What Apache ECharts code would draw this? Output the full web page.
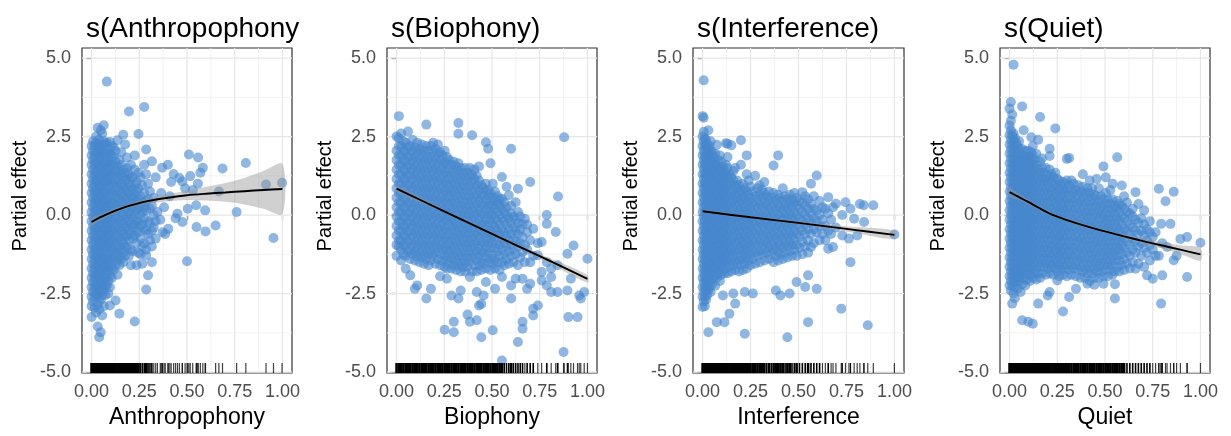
<!DOCTYPE html>
<html><head><meta charset="utf-8">
<script src="https://cdn.jsdelivr.net/npm/echarts@6/dist/echarts.min.js"></script>
<style>html,body{margin:0;padding:0;background:#fff}#c{width:1231px;height:436px}</style>
</head><body><div id="c"></div>
<script>
const panelTitles = ['s(Anthropophony)', 's(Biophony)', 's(Interference)', 's(Quiet)'];
const xAxisTitles = ['Anthropophony', 'Biophony', 'Interference', 'Quiet'];
const yAxisTitle = 'Partial effect';
const xTickValues = [0, 0.25, 0.5, 0.75, 1];
const yTickValues = [-5, -2.5, 0, 2.5, 5];
const xMinorGrid = [0.125, 0.375, 0.625, 0.875];
const yMinorGrid = [-3.75, -1.25, 1.25, 3.75];

// points: columns of [x, [y values]] plus single points
const anthroColumns = [
[0.000,[-3.25,-2.9,-2.6,-2.3,-2.0,-1.7,-1.4,-1.1,-0.8,-0.5,-0.2,0.1,0.4,0.7,1.0,1.3,1.6,1.9,2.2]],
[0.008,[-2.75,-2.45,-2.15,-1.85,-1.55,-1.25,-0.95,-0.65,-0.35,-0.05,0.25,0.55,0.85,1.15,1.45,1.75,2.05,2.35]],
[0.016,[-2.95,-2.6,-2.3,-2.0,-1.7,-1.4,-1.1,-0.8,-0.5,-0.2,0.1,0.4,0.7,1.0,1.3,1.6,1.9,2.2]],
[0.024,[-3.1,-2.5,-2.2,-1.9,-1.6,-1.3,-1.0,-0.7,-0.4,-0.1,0.2,0.5,0.8,1.1,1.4,1.7,2.0,2.3,2.5]],
[0.032,[-3.55,-2.85,-2.55,-2.25,-1.95,-1.65,-1.35,-1.05,-0.75,-0.45,-0.15,0.15,0.45,0.75,1.05,1.35,1.65,1.95,2.25,2.78]],
[0.040,[-3.89,-3.0,-2.65,-2.35,-2.05,-1.75,-1.45,-1.15,-0.85,-0.55,-0.25,0.05,0.35,0.65,0.95,1.25,1.55,1.85,2.15,2.4]],
[0.048,[-3.73,-2.7,-2.4,-2.1,-1.8,-1.5,-1.2,-0.9,-0.6,-0.3,0.0,0.3,0.6,0.9,1.2,1.5,1.8,2.1,2.7]],
[0.056,[-3.2,-2.55,-2.25,-1.95,-1.65,-1.35,-1.05,-0.75,-0.45,-0.15,0.15,0.45,0.75,1.05,1.35,1.65,1.95,2.25,2.6]],
[0.064,[-2.9,-2.4,-2.1,-1.8,-1.5,-1.2,-0.9,-0.6,-0.3,0.0,0.3,0.6,0.9,1.2,1.5,1.8,2.1,2.35,2.86]],
[0.072,[-2.55,-2.25,-1.95,-1.65,-1.35,-1.05,-0.75,-0.45,-0.15,0.15,0.45,0.75,1.05,1.35,1.65,1.95,2.25]],
[0.080,[-2.24,-1.95,-1.65,-1.35,-1.05,-0.75,-0.45,-0.15,0.15,0.45,0.75,1.05,1.35,1.65,1.95,2.3,4.25]],
[0.088,[-2.5,-2.1,-1.8,-1.5,-1.2,-0.9,-0.6,-0.3,0.0,0.3,0.6,0.9,1.2,1.5,1.8,2.1]],
[0.096,[-2.88,-2.3,-1.95,-1.65,-1.35,-1.05,-0.75,-0.45,-0.15,0.15,0.45,0.75,1.05,1.35,1.65,1.95,2.33]],
[0.106,[-2.0,-1.7,-1.4,-1.1,-0.8,-0.5,-0.2,0.1,0.4,0.7,1.0,1.3,1.6,1.9,2.2]],
[0.116,[-1.75,-1.45,-1.15,-0.85,-0.55,-0.25,0.05,0.35,0.65,0.95,1.25,1.55,1.85,2.15]],
[0.126,[-2.72,-1.6,-1.3,-1.0,-0.7,-0.4,-0.1,0.2,0.5,0.8,1.1,1.4,1.7,2.05]],
[0.136,[-1.9,-1.45,-1.15,-0.85,-0.55,-0.25,0.05,0.35,0.65,0.95,1.25,1.55,2.38]],
[0.146,[-3.14,-1.6,-1.3,-1.0,-0.7,-0.4,-0.1,0.2,0.5,0.8,1.1,1.4,1.75]],
[0.156,[-1.4,-1.1,-0.8,-0.5,-0.2,0.1,0.4,0.7,1.0,1.3,1.6,2.0]],
[0.166,[-1.5,-1.2,-0.9,-0.6,-0.3,0.0,0.3,0.6,0.9,1.2,1.45,2.56]],
[0.176,[-1.3,-1.0,-0.7,-0.4,-0.1,0.2,0.5,0.8,1.1,1.35,2.25]],
[0.186,[-1.0,-0.65,-0.35,-0.05,0.25,0.55,0.85,1.15,1.5,1.83]],
[0.196,[-1.3,-0.8,-0.5,-0.2,0.1,0.4,0.7,1.0,1.3,3.3]],
[0.206,[-1.6,-1.1,-0.6,-0.3,0.0,0.3,0.6,0.9,1.2,1.6]],
[0.216,[-1.15,-0.75,-0.4,-0.1,0.25,0.55,0.8,1.2]],
[0.226,[-3.39,-0.65,-0.3,0.05,0.35,0.65,0.95,1.45,1.9]],
[0.236,[-1.6,-0.9,-0.5,-0.2,0.15,0.45,0.75,1.05]],
[0.246,[-1.2,-0.55,-0.2,0.2,0.5,0.85,1.35,2.58]],
[0.256,[-1.25,-0.75,-0.35,0.0,0.3,0.6,1.2]],
[0.266,[-1.55,-1.0,-0.3,0.1,0.4,0.95]],
[0.276,[-0.9,-0.45,-0.1,0.25,0.7,1.6,3.44]],
[0.286,[-2.37,-1.28,-1.1,-0.5,0.15,0.45,1.3,2.09]],
[0.296,[-1.92,-0.6,-0.2,0.5,1.0]],
[0.306,[-0.8,-0.25,0.2,0.75]],
[0.316,[-1.5,-1.0,-0.5,0.3,1.71]],
[0.326,[-0.4,0.0,0.55]],
[0.336,[-0.75,-0.2,1.2]]
];
const anthroExtra = [[0.345,0.1],[0.36,-0.15],[0.365,0.7],[0.37,1.51],[0.372,-0.55],[0.38,0.25],[0.386,-0.6],[0.40,1.6],[0.402,-0.44],[0.41,0.6],[0.417,1.05],[0.43,1.31],[0.44,-0.1],[0.45,0.04],[0.46,1.18],[0.475,1.07],[0.476,-0.22],[0.49,0.85],[0.50,-1.47],[0.504,0.2],[0.51,1.93],[0.517,1.24],[0.53,0.8],[0.548,0.31],[0.55,-0.38],[0.557,1.0],[0.558,1.83],[0.57,1.35],[0.583,1.51],[0.595,0.15],[0.597,-0.52],[0.65,-0.33],[0.667,0.75],[0.686,1.48],[0.76,0.1],[0.808,1.66],[0.914,0.97],[0.953,-0.73],[0.998,1.03]];

const bioColumns = [
[0.000,[-1.3,-0.95,-0.65,-0.35,-0.05,0.25,0.55,0.85,1.15,1.45,1.75,2.05,2.5]],
[0.012,[-1.0,-0.8,-0.5,-0.2,0.1,0.4,0.7,1.0,1.3,1.6,1.9,2.2,2.45,3.15]],
[0.024,[-1.45,-1.1,-0.8,-0.5,-0.2,0.1,0.4,0.7,1.0,1.3,1.6,1.9,2.2,2.6]],
[0.036,[-1.25,-0.95,-0.65,-0.35,-0.05,0.25,0.55,0.85,1.15,1.45,1.75,2.05,2.35]],
[0.048,[-1.71,-1.3,-1.0,-0.7,-0.4,-0.1,0.2,0.5,0.8,1.1,1.4,1.7,2.0,2.3]],
[0.060,[-1.15,-0.85,-0.55,-0.25,0.05,0.35,0.65,0.95,1.25,1.55,1.85,2.15,2.66]],
[0.072,[-1.92,-1.4,-1.1,-0.8,-0.5,-0.2,0.1,0.4,0.7,1.0,1.3,1.6,1.9,2.2]],
[0.084,[-1.25,-0.95,-0.65,-0.35,-0.05,0.25,0.55,0.85,1.15,1.45,1.75,2.05,2.4]],
[0.096,[-2.35,-1.45,-1.15,-0.85,-0.55,-0.25,0.05,0.35,0.65,0.95,1.25,1.55,1.85,2.15]],
[0.108,[-2.24,-1.3,-1.0,-0.7,-0.4,-0.1,0.2,0.5,0.8,1.1,1.4,1.7,2.0,2.3]],
[0.120,[-1.5,-1.2,-0.9,-0.6,-0.3,0.0,0.3,0.6,0.9,1.2,1.5,1.8,2.1]],
[0.132,[-1.35,-1.05,-0.75,-0.45,-0.15,0.15,0.45,0.75,1.05,1.35,1.65,1.95,2.25]],
[0.144,[-1.55,-1.25,-0.95,-0.65,-0.35,-0.05,0.25,0.55,0.85,1.15,1.45,1.75,2.05]],
[0.156,[-2.66,-1.4,-1.1,-0.8,-0.5,-0.2,0.1,0.4,0.7,1.0,1.3,1.6,1.9,2.2,2.88]],
[0.168,[-1.6,-1.25,-0.95,-0.65,-0.35,-0.05,0.25,0.55,0.85,1.15,1.45,1.75,2.05]],
[0.180,[-2.35,-1.45,-1.15,-0.85,-0.55,-0.25,0.05,0.35,0.65,0.95,1.25,1.55,1.85,2.2]],
[0.192,[-1.3,-1.0,-0.7,-0.4,-0.1,0.2,0.5,0.8,1.1,1.4,1.7,2.0,2.3]],
[0.204,[-1.55,-1.2,-0.9,-0.6,-0.3,0.0,0.3,0.6,0.9,1.2,1.5,1.8,2.1]],
[0.216,[-1.4,-1.05,-0.75,-0.45,-0.15,0.15,0.45,0.75,1.05,1.35,1.65,1.95,2.25]],
[0.228,[-1.95,-1.6,-1.25,-0.95,-0.65,-0.35,-0.05,0.25,0.55,0.85,1.15,1.45,1.75,2.0]],
[0.240,[-1.45,-1.1,-0.8,-0.5,-0.2,0.1,0.4,0.7,1.0,1.3,1.6,1.9]],
[0.252,[-3.65,-1.65,-1.3,-1.0,-0.7,-0.4,-0.1,0.2,0.5,0.8,1.1,1.4,1.7,2.05]],
[0.264,[-2.03,-1.71,-1.4,-1.1,-0.8,-0.5,-0.2,0.1,0.4,0.7,1.0,1.3,1.6,1.85]],
[0.276,[-1.55,-1.25,-0.95,-0.65,-0.35,-0.05,0.25,0.55,0.85,1.15,1.45,1.75]],
[0.288,[-2.56,-1.7,-1.4,-1.1,-0.8,-0.5,-0.2,0.1,0.4,0.7,1.0,1.3,1.6]],
[0.300,[-3.73,-3.4,-1.6,-1.3,-1.0,-0.7,-0.4,-0.1,0.2,0.5,0.8,1.1,1.4,1.7]],
[0.312,[-1.75,-1.45,-1.15,-0.85,-0.55,-0.25,0.05,0.35,0.65,0.95,1.25,1.55]],
[0.324,[-2.66,-1.6,-1.3,-1.0,-0.7,-0.4,-0.1,0.2,0.5,0.8,1.1,1.4,1.65,2.59,2.93]],
[0.336,[-2.4,-1.8,-1.5,-1.2,-0.9,-0.6,-0.3,0.0,0.3,0.6,0.9,1.2,1.5]],
[0.348,[-1.65,-1.35,-1.05,-0.75,-0.45,-0.15,0.15,0.45,0.75,1.05,1.35]],
[0.360,[-1.8,-1.5,-1.2,-0.9,-0.6,-0.3,0.0,0.3,0.6,0.9,1.2,1.5]],
[0.372,[-3.17,-1.65,-1.35,-1.05,-0.75,-0.45,-0.15,0.15,0.45,0.75,1.05,1.35]],
[0.384,[-3.4,-1.97,-1.5,-1.2,-0.9,-0.6,-0.3,0.0,0.3,0.6,0.9,1.2,1.5]],
[0.396,[-1.8,-1.35,-1.05,-0.75,-0.45,-0.15,0.15,0.45,0.75,1.05,1.3,2.54]],
[0.408,[-1.6,-1.25,-0.95,-0.65,-0.35,-0.05,0.25,0.55,0.85,1.15,1.45]],
[0.420,[-3.35,-2.45,-1.8,-1.45,-1.15,-0.85,-0.55,-0.25,0.05,0.35,0.65,0.95,1.25]],
[0.432,[-2.88,-1.6,-1.3,-1.0,-0.7,-0.4,-0.1,0.2,0.5,0.8,1.1,1.55]],
[0.444,[-3.89,-2.83,-1.75,-1.45,-1.15,-0.85,-0.55,-0.25,0.05,0.35,0.65,0.95]],
[0.456,[-2.56,-1.55,-1.2,-0.9,-0.6,-0.3,0.0,0.3,0.6,0.85]],
[0.468,[-2.13,-1.7,-1.35,-1.05,-0.75,-0.45,-0.15,0.15,0.45,0.75,1.0,2.32]],
[0.480,[-1.5,-1.2,-0.9,-0.6,-0.3,0.0,0.3,0.6,0.8,2.11]],
[0.492,[-1.75,-1.4,-1.05,-0.75,-0.45,-0.15,0.15,0.45,0.7,1.65]],
[0.504,[-3.67,-1.55,-1.25,-0.9,-0.6,-0.3,0.0,0.3,0.55,1.0]],
[0.516,[-2.35,-1.7,-1.4,-1.05,-0.7,-0.4,-0.1,0.2,0.45,0.75]],
[0.528,[-1.5,-1.15,-0.85,-0.5,-0.2,0.1,0.35,0.6]],
[0.540,[-1.75,-1.3,-0.95,-0.6,-0.3,0.0,0.3,0.5]],
[0.552,[-4.63,-1.97,-1.5,-1.1,-0.75,-0.45,-0.1,0.2,0.52,1.21]],
[0.564,[-1.6,-1.25,-0.9,-0.55,-0.2,0.1,0.4]],
[0.576,[-1.4,-1.0,-0.65,-0.3,0.0,0.25,0.9]],
[0.588,[-1.55,-1.15,-0.8,-0.45,-0.1,0.63]],
[0.600,[-2.66,-2.24,-1.3,-0.95,-0.6,-0.25,0.05,0.3,2.11]],
[0.612,[-1.5,-1.1,-0.75,-0.4,-0.05]],
[0.624,[-2.03,-1.25,-0.85,-0.5,-0.15,0.41]],
[0.636,[-4.04,-1.6,-1.0,-0.6,-0.25,0.1,0.84]],
[0.648,[-1.35,-0.9,-0.45,-0.05]],
[0.660,[-3.62,-3.4,-2.03,-1.18,-0.7,-0.3]],
[0.672,[-1.5,-0.95,-0.12]],
[0.684,[-2.35,-1.1,-0.55,-0.3]],
[0.700,[-2.19,-1.5,-0.8,1.05]],
[0.716,[-3.2,-2.98,-1.3,-0.44]],
[0.740,[-2.88,-1.28,-0.9]],
[0.760,[-2.08,-1.81,-0.86]],
[0.787,[-2.24,-1.5,0.0,-0.28]],
[0.810,[-2.45,-1.97,-1.7]]
];
const bioExtra = [[0.834,-0.54],[0.843,-1.6],[0.843,-2.45],[0.846,0.59],[0.875,-4.36],[0.878,2.48],[0.895,-1.23],[0.895,-2.4],[0.9,-3.25],[0.913,-2.03],[0.927,-0.97],[0.948,-3.25],[0.957,-2.56],[0.965,-2.66],[0.983,-2.45],[1.0,-1.39]];

const interfColumns = [
[0.000,[-2.93,-2.6,-2.3,-2.0,-1.7,-1.4,-1.1,-0.8,-0.5,-0.2,0.1,0.4,0.7,1.0,1.3,1.6,1.9,2.2,2.5,3.15]],
[0.006,[-2.75,-2.45,-2.15,-1.85,-1.55,-1.25,-0.95,-0.65,-0.35,-0.05,0.25,0.55,0.85,1.15,1.45,1.75,2.05,2.35,2.65,3.1,4.29]],
[0.012,[-2.9,-2.6,-2.3,-2.0,-1.7,-1.4,-1.1,-0.8,-0.5,-0.2,0.1,0.4,0.7,1.0,1.3,1.6,1.9,2.2,2.45]],
[0.018,[-2.7,-2.4,-2.1,-1.8,-1.5,-1.2,-0.9,-0.6,-0.3,0.0,0.3,0.6,0.9,1.2,1.5,1.8,2.1,2.4]],
[0.024,[-2.55,-2.25,-1.95,-1.65,-1.35,-1.05,-0.75,-0.45,-0.15,0.15,0.45,0.75,1.05,1.35,1.65,1.95,2.25]],
[0.030,[-3.73,-2.4,-2.1,-1.8,-1.5,-1.2,-0.9,-0.6,-0.3,0.0,0.3,0.6,0.9,1.2,1.5,1.8,2.1,2.7]],
[0.036,[-2.3,-2.0,-1.7,-1.4,-1.1,-0.8,-0.5,-0.2,0.1,0.4,0.7,1.0,1.3,1.6,1.9,2.2]],
[0.042,[-2.45,-2.15,-1.85,-1.55,-1.25,-0.95,-0.65,-0.35,-0.05,0.25,0.55,0.85,1.15,1.45,1.75,2.05,2.35]],
[0.050,[-2.2,-1.9,-1.6,-1.3,-1.0,-0.7,-0.4,-0.1,0.2,0.5,0.8,1.1,1.4,1.7,2.0]],
[0.058,[-2.0,-1.7,-1.4,-1.1,-0.8,-0.5,-0.2,0.1,0.4,0.7,1.0,1.3,1.6,1.85]],
[0.066,[-2.25,-1.95,-1.65,-1.35,-1.05,-0.75,-0.45,-0.15,0.15,0.45,0.75,1.05,1.35,1.65,1.95]],
[0.074,[-3.41,-2.0,-1.7,-1.4,-1.1,-0.8,-0.5,-0.2,0.1,0.4,0.7,1.0,1.3,1.6,2.24]],
[0.082,[-1.85,-1.55,-1.25,-0.95,-0.65,-0.35,-0.05,0.25,0.55,0.85,1.15,1.45,1.75]],
[0.090,[-2.1,-1.8,-1.5,-1.2,-0.9,-0.6,-0.3,0.0,0.3,0.6,0.9,1.2,1.5,1.9]],
[0.098,[-1.9,-1.6,-1.3,-1.0,-0.7,-0.4,-0.1,0.2,0.5,0.8,1.1,1.4,1.7]],
[0.106,[-2.56,-1.75,-1.45,-1.15,-0.85,-0.55,-0.25,0.05,0.35,0.65,0.95,1.25,1.55]],
[0.114,[-3.41,-1.85,-1.55,-1.25,-0.95,-0.65,-0.35,-0.05,0.25,0.55,0.85,1.15,1.4]],
[0.122,[-1.7,-1.4,-1.1,-0.8,-0.5,-0.2,0.1,0.4,0.7,1.0,1.3,1.6,2.29]],
[0.130,[-1.85,-1.5,-1.2,-0.9,-0.6,-0.3,0.0,0.3,0.6,0.9,1.2,1.5,1.85,2.27]],
[0.140,[-3.14,-1.65,-1.35,-1.05,-0.75,-0.45,-0.15,0.15,0.45,0.75,1.05,1.3]],
[0.150,[-1.8,-1.45,-1.15,-0.85,-0.55,-0.25,0.05,0.35,0.65,0.95,1.2,2.22]],
[0.160,[-2.5,-1.6,-1.3,-1.0,-0.7,-0.4,-0.1,0.2,0.5,0.8,1.1,1.4]],
[0.170,[-2.82,-1.75,-1.45,-1.15,-0.85,-0.55,-0.25,0.05,0.35,0.65,0.95,1.5]],
[0.180,[-1.55,-1.25,-0.95,-0.65,-0.35,-0.05,0.25,0.55,0.85,1.1]],
[0.190,[-1.8,-1.45,-1.1,-0.8,-0.5,-0.2,0.1,0.4,0.7,0.95]],
[0.200,[-1.6,-1.3,-1.0,-0.7,-0.4,-0.1,0.2,0.5,0.8,1.6,2.38]],
[0.210,[-1.75,-1.4,-1.1,-0.8,-0.5,-0.2,0.1,0.4,0.7,1.0]],
[0.220,[-3.78,-2.45,-1.55,-1.25,-0.95,-0.65,-0.35,-0.05,0.25,0.55,0.85]],
[0.230,[-1.7,-1.35,-1.05,-0.75,-0.45,-0.15,0.15,0.45,0.75,1.3,1.9]],
[0.240,[-1.45,-1.15,-0.85,-0.55,-0.25,0.05,0.35,0.65,1.1]],
[0.250,[-1.6,-1.25,-0.95,-0.65,-0.35,-0.05,0.25,0.55,0.9]],
[0.262,[-2.5,-1.4,-1.1,-0.8,-0.5,-0.2,0.1,0.4,0.75]],
[0.274,[-1.55,-1.2,-0.9,-0.6,-0.3,0.0,0.3,0.6,1.25]],
[0.286,[-1.3,-1.0,-0.7,-0.4,-0.1,0.2,0.5,0.85]],
[0.298,[-1.5,-1.15,-0.85,-0.55,-0.25,0.05,0.35,0.65,0.95]],
[0.310,[-1.25,-0.95,-0.65,-0.35,-0.05,0.25,0.55,0.8]],
[0.322,[-1.45,-1.1,-0.8,-0.5,-0.2,0.1,0.4,0.7,1.05]],
[0.334,[-1.2,-0.9,-0.6,-0.3,0.0,0.3,0.6]],
[0.346,[-1.4,-1.05,-0.75,-0.45,-0.15,0.15,0.45,0.75]],
[0.358,[-1.25,-0.95,-0.65,-0.35,-0.05,0.25,0.55]],
[0.370,[-1.5,-1.1,-0.8,-0.5,-0.2,0.1,0.4,0.7,1.58]],
[0.382,[-2.4,-1.3,-1.0,-0.7,-0.4,-0.1,0.2,0.5]],
[0.394,[-1.45,-1.15,-0.85,-0.55,-0.25,0.05,0.35,0.65,1.9]],
[0.406,[-2.56,-1.25,-0.95,-0.65,-0.35,-0.05,0.25,0.55]],
[0.418,[-1.4,-1.05,-0.75,-0.45,-0.15,0.15,0.45,0.85]],
[0.430,[-1.2,-0.9,-0.6,-0.3,0.0,0.3,0.6]],
[0.442,[-3.89,-1.35,-1.0,-0.7,-0.4,-0.1,0.2,0.5]],
[0.454,[-2.5,-1.15,-0.85,-0.55,-0.25,0.05,0.35,0.65]],
[0.466,[-1.3,-0.95,-0.65,-0.35,-0.05,0.25,0.5]],
[0.478,[-1.1,-0.8,-0.5,-0.2,0.1,0.4,0.7]],
[0.490,[-2.13,-1.3,-0.95,-0.6,-0.3,0.0,0.3,0.55]],
[0.505,[-1.05,-0.7,-0.4,-0.1,0.2,0.45]],
[0.520,[-1.25,-0.85,-0.5,-0.2,0.1,0.4,0.73]],
[0.535,[-2.29,-1.0,-0.6,-0.3,0.0,0.3,0.6]],
[0.550,[-3.41,-1.92,-1.2,-0.8,-0.45,-0.1,0.2,0.5]],
[0.565,[-1.02,-0.6,-0.25,0.05,0.35,1.0]],
[0.580,[-0.9,-0.45,-0.1,0.2,0.6]],
[0.595,[-2.35,-0.55,-0.2,0.15,1.26]],
[0.610,[-0.8,-0.35,0.0,0.45]],
[0.625,[-0.6,-0.15,0.25]],
[0.640,[-0.8,-0.35,0.2]],
[0.655,[-1.07,-0.5,0.05,0.57]],
[0.670,[-0.6,-0.15]],
[0.680,[-1.02,0.25]],
[0.695,[0.36,-0.4]]
];
const interfExtra = [[0.723,-2.98],[0.728,-0.65],[0.728,0.0],[0.745,0.41],[0.763,-0.75],[0.771,-1.5],[0.771,0.2],[0.79,-0.12],[0.806,-0.65],[0.82,0.35],[0.84,0.31],[0.842,-0.22],[0.861,-3.51],[0.89,0.31],[1.0,-0.62]];

const quietColumns = [
[0.000,[-2.24,-1.95,-1.65,-1.35,-1.05,-0.75,-0.45,-0.15,0.15,0.45,0.75,1.05,1.35,1.65,1.95,2.25,2.55,2.85,3.39]],
[0.007,[-2.4,-2.1,-1.8,-1.5,-1.2,-0.9,-0.6,-0.3,0.0,0.3,0.6,0.9,1.2,1.5,1.8,2.1,2.4,2.7,3.0,3.6]],
[0.014,[-2.82,-2.25,-1.95,-1.65,-1.35,-1.05,-0.75,-0.45,-0.15,0.15,0.45,0.75,1.05,1.35,1.65,1.95,2.25,2.55,3.2]],
[0.021,[-2.5,-2.1,-1.8,-1.5,-1.2,-0.9,-0.6,-0.3,0.0,0.3,0.6,0.9,1.2,1.5,1.8,2.1,2.4,2.6,4.79]],
[0.028,[-2.65,-2.3,-2.0,-1.7,-1.4,-1.1,-0.8,-0.5,-0.2,0.1,0.4,0.7,1.0,1.3,1.6,1.9,2.2,2.45]],
[0.035,[-2.15,-1.85,-1.55,-1.25,-0.95,-0.65,-0.35,-0.05,0.25,0.55,0.85,1.15,1.45,1.75,2.05,2.3]],
[0.042,[-2.35,-2.0,-1.7,-1.4,-1.1,-0.8,-0.5,-0.2,0.1,0.4,0.7,1.0,1.3,1.6,1.9,2.2]],
[0.050,[-2.1,-1.8,-1.5,-1.2,-0.9,-0.6,-0.3,0.0,0.3,0.6,0.9,1.2,1.5,1.8,2.1,2.35]],
[0.058,[-2.45,-1.95,-1.65,-1.35,-1.05,-0.75,-0.45,-0.15,0.15,0.45,0.75,1.05,1.35,1.65,1.95]],
[0.066,[-3.35,-2.2,-1.85,-1.55,-1.25,-0.95,-0.65,-0.35,-0.05,0.25,0.55,0.85,1.15,1.45,1.75,2.1,3.46]],
[0.074,[-2.0,-1.7,-1.4,-1.1,-0.8,-0.5,-0.2,0.1,0.4,0.7,1.0,1.3,1.6,1.9,2.7]],
[0.082,[-2.24,-1.85,-1.55,-1.25,-0.95,-0.65,-0.35,-0.05,0.25,0.55,0.85,1.15,1.45,1.75,2.05]],
[0.090,[-2.05,-1.7,-1.4,-1.1,-0.8,-0.5,-0.2,0.1,0.4,0.7,1.0,1.3,1.6,1.85]],
[0.098,[-3.4,-1.9,-1.55,-1.25,-0.95,-0.65,-0.35,-0.05,0.25,0.55,0.85,1.15,1.45,1.75,2.05]],
[0.106,[-2.1,-1.75,-1.45,-1.15,-0.85,-0.55,-0.25,0.05,0.35,0.65,0.95,1.25,1.55,1.85]],
[0.114,[-1.9,-1.6,-1.3,-1.0,-0.7,-0.4,-0.1,0.2,0.5,0.8,1.1,1.4,1.7,2.0,2.48]],
[0.122,[-3.46,-2.0,-1.7,-1.4,-1.1,-0.8,-0.5,-0.2,0.1,0.4,0.7,1.0,1.3,1.6,1.9,2.2]],
[0.130,[-1.85,-1.55,-1.25,-0.95,-0.65,-0.35,-0.05,0.25,0.55,0.85,1.15,1.45,1.75]],
[0.140,[-2.05,-1.7,-1.4,-1.1,-0.8,-0.5,-0.2,0.1,0.4,0.7,1.0,1.3,1.6,1.95]],
[0.150,[-2.82,-1.85,-1.55,-1.25,-0.95,-0.65,-0.35,-0.05,0.25,0.55,0.85,1.15,1.45,2.4]],
[0.160,[-2.0,-1.65,-1.35,-1.05,-0.75,-0.45,-0.15,0.15,0.45,0.75,1.05,1.35,1.7,3.12]],
[0.170,[-1.85,-1.5,-1.2,-0.9,-0.6,-0.3,0.0,0.3,0.6,0.9,1.2,1.5,1.8]],
[0.180,[-1.65,-1.35,-1.05,-0.75,-0.45,-0.15,0.15,0.45,0.75,1.05,1.35]],
[0.190,[-1.9,-1.55,-1.25,-0.95,-0.65,-0.35,-0.05,0.25,0.55,0.85,1.15,1.5]],
[0.200,[-2.56,-1.7,-1.4,-1.1,-0.8,-0.5,-0.2,0.1,0.4,0.7,1.0,1.25]],
[0.210,[-2.45,-1.85,-1.55,-1.25,-0.95,-0.65,-0.35,-0.05,0.25,0.55,0.85,1.15,1.45,1.88,2.11]],
[0.220,[-1.65,-1.35,-1.05,-0.75,-0.45,-0.15,0.15,0.45,0.75,1.05,1.3]],
[0.230,[-1.9,-1.55,-1.25,-0.95,-0.65,-0.35,-0.05,0.25,0.55,0.85,1.2]],
[0.240,[-1.7,-1.4,-1.1,-0.8,-0.5,-0.2,0.1,0.4,0.7,1.0,1.35,2.76]],
[0.250,[-2.08,-1.8,-1.5,-1.2,-0.9,-0.6,-0.3,0.0,0.3,0.6,0.9,1.15]],
[0.260,[-1.95,-1.6,-1.3,-1.0,-0.7,-0.4,-0.1,0.2,0.5,0.8,1.1]],
[0.270,[-1.75,-1.45,-1.15,-0.85,-0.55,-0.25,0.05,0.35,0.65,0.95]],
[0.280,[-3.07,-1.9,-1.6,-1.3,-1.0,-0.7,-0.4,-0.1,0.2,0.5,0.8,1.05]],
[0.290,[-1.7,-1.4,-1.1,-0.8,-0.5,-0.2,0.1,0.4,0.7,1.0]],
[0.300,[-1.95,-1.6,-1.3,-1.0,-0.7,-0.4,-0.1,0.2,0.5,0.8,1.1,1.79]],
[0.312,[-2.61,-1.75,-1.45,-1.15,-0.85,-0.55,-0.25,0.05,0.35,0.65,0.95,1.82]],
[0.324,[-1.9,-1.6,-1.3,-1.0,-0.7,-0.4,-0.1,0.2,0.5,0.8,1.1]],
[0.336,[-1.7,-1.4,-1.1,-0.8,-0.5,-0.2,0.1,0.4,0.7,1.0]],
[0.348,[-2.35,-1.95,-1.6,-1.3,-1.0,-0.7,-0.4,-0.1,0.2,0.5,0.8]],
[0.360,[-1.75,-1.45,-1.15,-0.85,-0.55,-0.25,0.05,0.35,0.65,0.95]],
[0.372,[-2.0,-1.65,-1.35,-1.05,-0.75,-0.45,-0.15,0.15,0.45,0.75]],
[0.384,[-1.8,-1.5,-1.2,-0.9,-0.6,-0.3,0.0,0.3,0.6,0.9,1.3]],
[0.396,[-2.0,-1.7,-1.4,-1.1,-0.8,-0.5,-0.2,0.1,0.4,0.7]],
[0.408,[-2.19,-1.85,-1.55,-1.25,-0.95,-0.65,-0.35,-0.05,0.25,0.55,0.85]],
[0.420,[-2.1,-1.7,-1.4,-1.1,-0.8,-0.5,-0.2,0.1,0.4,0.7,1.1]],
[0.432,[-1.85,-1.55,-1.25,-0.95,-0.65,-0.35,-0.05,0.25,0.55,0.85]],
[0.444,[-2.22,-2.0,-1.7,-1.4,-1.1,-0.8,-0.5,-0.2,0.1,0.4,0.65]],
[0.456,[-1.8,-1.5,-1.2,-0.9,-0.6,-0.3,0.0,0.3,0.6,1.15]],
[0.468,[-2.0,-1.65,-1.35,-1.05,-0.75,-0.45,-0.15,0.15,0.45,0.85]],
[0.480,[-1.8,-1.5,-1.2,-0.9,-0.6,-0.3,0.0,0.3,0.6]],
[0.492,[-2.19,-1.95,-1.6,-1.3,-1.0,-0.7,-0.4,-0.1,0.2,0.5,1.55]],
[0.504,[-1.75,-1.45,-1.15,-0.85,-0.55,-0.25,0.05,0.35,0.7,1.2]],
[0.516,[-1.95,-1.6,-1.3,-1.0,-0.7,-0.4,-0.1,0.2,0.5]],
[0.528,[-1.75,-1.45,-1.15,-0.85,-0.55,-0.25,0.05,0.35,0.8]],
[0.540,[-1.9,-1.6,-1.3,-1.0,-0.7,-0.4,-0.1,0.2,0.5,1.0]],
[0.552,[-2.66,-2.2,-1.8,-1.45,-1.15,-0.85,-0.55,-0.25,0.05,0.3]],
[0.564,[-1.65,-1.3,-1.0,-0.7,-0.4,-0.1,0.2,0.45,1.84]],
[0.576,[-1.8,-1.45,-1.1,-0.8,-0.5,-0.2,0.1,0.35]],
[0.588,[-1.6,-1.25,-0.95,-0.65,-0.35,-0.05,0.3,0.94]],
[0.600,[-1.75,-1.4,-1.05,-0.75,-0.45,-0.1,0.2,0.6]],
[0.615,[-1.55,-1.2,-0.85,-0.5,-0.2,0.1,0.4]],
[0.630,[-1.7,-1.3,-0.95,-0.6,-0.3,0.05]],
[0.645,[-1.5,-1.1,-0.75,-0.4,-0.05,0.2]],
[0.660,[-1.71,-1.2,-0.85,-0.5,-0.15,0.73]],
[0.675,[-1.55,-1.0,-0.6,-0.25,0.35]],
[0.690,[-1.3,-0.9,-0.5,-0.1]],
[0.705,[-1.65,-1.05,-0.65,-0.3,0.15]],
[0.720,[-1.92,-1.2,-0.8,-0.45]],
[0.735,[-1.45,-0.95,-0.55,-0.2]],
[0.750,[-2.03,-1.1,-0.7]],
[0.765,[-1.3,-0.55]]
];
const quietExtra = [[0.782,0.84],[0.782,-1.3],[0.794,-2.82],[0.794,-0.28],[0.8,-1.92],[0.8,-0.9],[0.817,0.44],[0.825,-1.02],[0.843,-0.28],[0.86,0.74],[0.86,-1.44],[0.875,-1.3],[0.895,-0.76],[0.93,-0.7],[0.93,-1.97],[1.0,-0.88]];

// smooth fits with confidence bands
const anthroFitX = [0, 0.05, 0.1, 0.15, 0.2, 0.25, 0.3, 0.4, 0.5, 0.6, 0.7, 0.8, 0.9, 1.0];
const anthroFit = [-0.22, -0.06, 0.08, 0.2, 0.3, 0.38, 0.45, 0.55, 0.63, 0.68, 0.72, 0.76, 0.8, 0.83];
const anthroLower = [-0.34, -0.15, 0.0, 0.13, 0.23, 0.3, 0.36, 0.44, 0.48, 0.46, 0.42, 0.34, 0.2, 0.04];
const anthroUpper = [-0.1, 0.03, 0.16, 0.27, 0.37, 0.46, 0.54, 0.66, 0.78, 0.9, 1.02, 1.18, 1.4, 1.63];

const bioFitX = [0, 0.25, 0.5, 0.75, 1.0];
const bioFit = [0.84, 0.12, -0.6, -1.31, -2.03];
const bioLower = [0.74, 0.07, -0.65, -1.38, -2.15];
const bioUpper = [0.94, 0.17, -0.55, -1.24, -1.91];

const interfFitX = [0, 0.25, 0.5, 0.75, 1.0];
const interfFit = [0.12, -0.07, -0.25, -0.44, -0.63];
const interfLower = [0.07, -0.1, -0.3, -0.52, -0.76];
const interfUpper = [0.17, -0.04, -0.2, -0.36, -0.5];

const quietFitX = [0, 0.05, 0.1, 0.15, 0.2, 0.25, 0.3, 0.4, 0.5, 0.6, 0.7, 0.8, 0.9, 1.0];
const quietFit = [0.73, 0.57, 0.41, 0.24, 0.08, -0.05, -0.16, -0.35, -0.52, -0.68, -0.83, -0.97, -1.11, -1.25];
const quietLower = [0.58, 0.47, 0.33, 0.17, 0.02, -0.1, -0.21, -0.4, -0.57, -0.74, -0.91, -1.07, -1.25, -1.45];
const quietUpper = [0.88, 0.67, 0.49, 0.31, 0.14, 0.0, -0.11, -0.3, -0.47, -0.62, -0.75, -0.87, -0.97, -1.05];

const toPairs = (cols, extra) => cols.flatMap(c => c[1].map(y => [c[0], y])).concat(extra);

const panels = [
  { cols: anthroColumns, extra: anthroExtra, fx: anthroFitX, fit: anthroFit, lo: anthroLower, hi: anthroUpper },
  { cols: bioColumns, extra: bioExtra, fx: bioFitX, fit: bioFit, lo: bioLower, hi: bioUpper },
  { cols: interfColumns, extra: interfExtra, fx: interfFitX, fit: interfFit, lo: interfLower, hi: interfUpper },
  { cols: quietColumns, extra: quietExtra, fx: quietFitX, fit: quietFit, lo: quietLower, hi: quietUpper }
];

const FONT = 'Liberation Sans, Arial, sans-serif';
const XMIN = -0.05, XMAX = 1.05, YMIN = -5.03, YMAX = 5.32;
const layout = [ { left: 82, width: 210 }, { left: 387, width: 210 }, { left: 693, width: 211 }, { left: 1000, width: 210 } ];
const TOP = 48, HEIGHT = 325, RUG = 10;

const option = { animation: false, backgroundColor: '#fff', title: [], grid: [], xAxis: [], yAxis: [], series: [], graphic: [] };

panels.forEach((p, i) => {
  const L = layout[i];
  const pts = toPairs(p.cols, p.extra);
  option.title.push({
    text: panelTitles[i], left: L.left - 1, top: 10,
    textStyle: { fontFamily: FONT, fontSize: 28, fontWeight: 'normal', color: '#000',
      width: i === 0 ? 218 : 300, overflow: 'truncate', ellipsis: '' }
  });
  option.graphic.push({
    type: 'text', x: L.left - 62, y: 196, rotation: Math.PI / 2, silent: true,
    style: { text: yAxisTitle, fill: '#000', font: '20px ' + FONT, textAlign: 'center', textVerticalAlign: 'middle' }
  });
  option.grid.push({ left: L.left, top: TOP, width: L.width, height: HEIGHT, show: true,
    backgroundColor: '#fff', borderColor: '#333', borderWidth: 1.2 });
  option.xAxis.push({
    gridIndex: i, type: 'value', min: XMIN, max: XMAX,
    axisLine: { show: false }, splitLine: { show: false },
    axisTick: { show: true, customValues: xTickValues, length: 5, lineStyle: { color: '#333', width: 1.2 } },
    axisLabel: { customValues: xTickValues, formatter: v => v.toFixed(2), color: '#4d4d4d', fontSize: 18, margin: 10, fontFamily: FONT },
    name: xAxisTitles[i], nameLocation: 'middle', nameGap: 24,
    nameTextStyle: { fontSize: 23, color: '#000', fontFamily: FONT }
  });
  option.yAxis.push({
    gridIndex: i, type: 'value', min: YMIN, max: YMAX,
    axisLine: { show: false }, splitLine: { show: false },
    axisTick: { show: true, customValues: yTickValues, length: 5, lineStyle: { color: '#333', width: 1.2 } },
    axisLabel: { customValues: yTickValues, formatter: v => v.toFixed(1), color: '#4d4d4d', fontSize: 18, margin: 11, fontFamily: FONT }
  });
  const gl = [];
  xTickValues.forEach(v => gl.push([v, 0, 1]));
  xMinorGrid.forEach(v => gl.push([v, 0, 0]));
  yTickValues.forEach(v => gl.push([v, 1, 1]));
  yMinorGrid.forEach(v => gl.push([v, 1, 0]));
  option.series.push({
    type: 'custom', xAxisIndex: i, yAxisIndex: i, z: 1, silent: true, data: gl,
    encode: { x: -1, y: -1 },
    renderItem: (params, api) => {
      const v = api.value(0), horiz = api.value(1) === 1, major = api.value(2) === 1;
      let a, b;
      if (horiz) { a = api.coord([XMIN, v]); b = api.coord([XMAX, v]); }
      else { a = api.coord([v, YMIN]); b = api.coord([v, YMAX]); }
      return { type: 'line', shape: { x1: a[0], y1: a[1], x2: b[0], y2: b[1] },
        style: { stroke: major ? '#e6e6e6' : '#efefef', lineWidth: major ? 1.2 : 0.8 } };
    }
  });
  option.series.push({
    type: 'scatter', xAxisIndex: i, yAxisIndex: i, z: 2, silent: true, large: false,
    symbolSize: 10, data: pts,
    itemStyle: { color: 'rgb(70,135,205)', opacity: 0.6 }
  });
  option.series.push({
    type: 'custom', xAxisIndex: i, yAxisIndex: i, z: 3, silent: true, data: [[0.5, 0]],
    renderItem: (params, api) => {
      const poly = [];
      p.fx.forEach((x, j) => poly.push(api.coord([x, p.hi[j]])));
      for (let j = p.fx.length - 1; j >= 0; j--) poly.push(api.coord([p.fx[j], p.lo[j]]));
      return { type: 'polygon', shape: { points: poly, smooth: 0.3 }, style: { fill: 'rgba(150,150,150,0.45)' } };
    }
  });
  option.series.push({
    type: 'line', xAxisIndex: i, yAxisIndex: i, z: 4, silent: true, smooth: 0.3,
    showSymbol: false, data: p.fx.map((x, j) => [x, p.fit[j]]),
    lineStyle: { color: '#000', width: 1.9 }
  });
  // rug: one tick per observed x value, placed through the x scale;
  // column count (number of observations at that x) decides the tick weight
  const rugData = p.cols.map(c => [c[0], c[1].length]).concat(p.extra.map(q => [q[0], 1]));
  option.series.push({
    type: 'custom', xAxisIndex: i, yAxisIndex: i, z: 5, silent: true, data: rugData,
    encode: { x: 0, y: -1 },
    renderItem: (params, api) => {
      const base = api.coord([api.value(0), YMIN]);
      const n = api.value(1);
      const w = n >= 8 ? 2.6 : (n >= 4 ? 1.6 : 1.2);
      return { type: 'rect', shape: { x: base[0] - w / 2, y: base[1] - RUG, width: w, height: RUG },
        style: { fill: n >= 4 ? '#000' : 'rgba(0,0,0,0.75)' } };
    }
  });
});

const chart = echarts.init(document.getElementById('c'), null, { renderer: 'canvas' });
chart.setOption(option);
</script>
</body></html>
